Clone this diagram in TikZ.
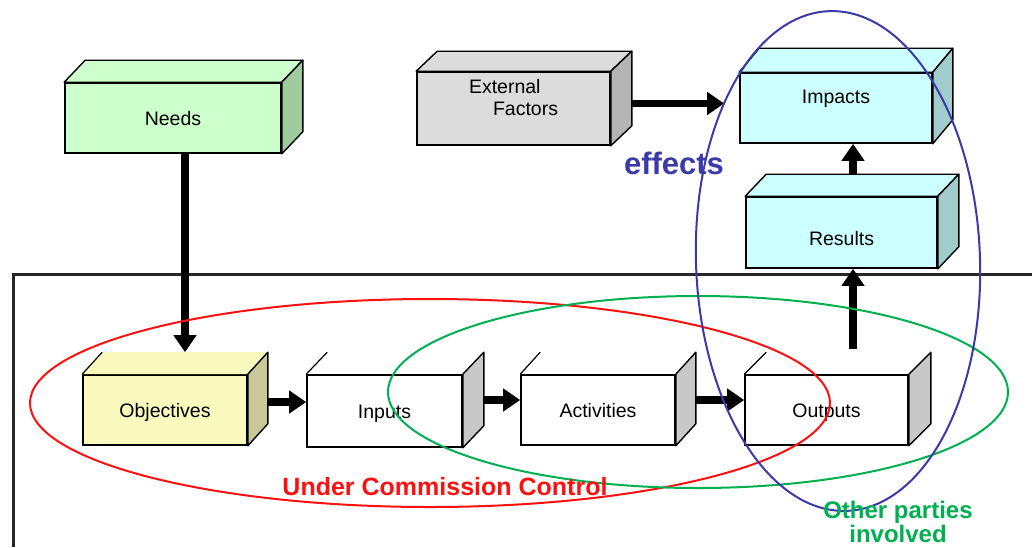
\documentclass[tikz,border=0pt]{standalone}
\usepackage{fontspec}
\setmainfont{Liberation Sans}
\usetikzlibrary{calc,arrows.meta}
\definecolor{needsF}{HTML}{CCFFCC}\definecolor{needsS}{HTML}{9FCC9F}
\definecolor{extF}{HTML}{DCDCDC}\definecolor{extS}{HTML}{B4B4B4}
\definecolor{cyF}{HTML}{CCFFFF}\definecolor{cyS}{HTML}{A0CCCC}
\definecolor{yeF}{HTML}{FAFABE}\definecolor{yeS}{HTML}{CCCC99}
\definecolor{whS}{HTML}{C8C8C8}
\definecolor{ellred}{HTML}{FF1010}\definecolor{ellgreen}{HTML}{00B050}
\definecolor{ellblue}{HTML}{3A3AA8}
\newcommand\cubefaces[5]{%
  \filldraw[fill=#4, line width=1.4pt, line join=round] (#1.north west) -- ++(#2,#3) -- ($(#1.north east)+(#2,#3)$) -- (#1.north east) -- cycle;
  \filldraw[fill=#5, line width=1.4pt, line join=round] (#1.north east) -- ++(#2,#3) -- ($(#1.south east)+(#2,#3)$) -- (#1.south east) -- cycle;}
\newcommand\openfaces[4]{%
  \fill[#4] (#1.north west) -- ++(#2,#3) -- ($(#1.north east)+(#2,#3)$) -- (#1.north east) -- cycle;
  \draw[line width=1.2pt] (#1.north west) -- ++(#2,#3);
  \filldraw[fill=#4!80!black, line width=1.4pt, line join=round] (#1.north east) -- ++(#2,#3) -- ($(#1.south east)+(#2,#3)$) -- (#1.south east) -- cycle;}
\newcommand\whitefaces[3]{%
  \draw[line width=1.2pt] (#1.north west) -- ++(#2,#3);
  \filldraw[fill=whS, line width=1.4pt, line join=round] (#1.north east) -- ++(#2,#3) -- ($(#1.south east)+(#2,#3)$) -- (#1.south east) -- cycle;}
\tikzset{
  cubebox/.style={draw, line width=1.6pt, inner sep=0pt, font=\fontsize{19.5}{22}\selectfont, text height=14pt, text depth=0pt},
  arr/.style={line width=7.5pt, -{Triangle[length=17pt,width=22pt]}},
  frame/.style={line width=3pt, draw=black!85},
  ell/.style={line width=2pt},
}
\begin{document}
\begin{tikzpicture}[x=1pt,y=-1pt]
\useasboundingbox (0,0) rectangle (1032,547);
% frame
\draw[frame] (1032,274) -- (13,274) -- (13,547);
% boxes
\node[cubebox, fill=needsF, minimum width=216pt, minimum height=70pt] (needs) at (173,118) {Needs};
\cubefaces{needs}{21}{-22}{needsF}{needsS}
\node[cubebox, fill=extF, minimum width=193pt, minimum height=73pt, align=left] (ext) at (513.5,108.5) {External\\\hspace*{24pt}Factors};
\cubefaces{ext}{21}{-20}{extF}{extS}
\node[cubebox, fill=cyF, minimum width=192pt, minimum height=70pt, text height=4pt, text depth=14pt] (imp) at (836,108) {Impacts};
\cubefaces{imp}{20}{-24}{cyF}{cyS}
\node[cubebox, fill=cyF, minimum width=191pt, minimum height=71pt, text height=25pt, text depth=0pt] (res) at (841.5,232.5) {Results};
\cubefaces{res}{21}{-22}{cyF}{cyS}
\node[cubebox, fill=yeF, minimum width=164pt, minimum height=70pt] (obj) at (165,410) {Objectives};
\openfaces{obj}{20}{-22}{yeF}
\node[cubebox, fill=white, minimum width=155pt, minimum height=72pt] (inp) at (384.5,411) {Inputs};
\whitefaces{inp}{21}{-22}
\node[cubebox, fill=white, minimum width=154pt, minimum height=70pt] (act) at (598,410) {Activities};
\whitefaces{act}{20}{-22}
\node[cubebox, fill=white, minimum width=163pt, minimum height=70pt] (out) at (826.5,410) {Outputs};
\whitefaces{out}{22}{-22}
% arrows
\draw[arr] ($(needs.south)+(12,0)$) -- ($(obj.north)+(20,-22)$);
\draw[arr] ($(ext.east)+(21,-5)$) -- ($(imp.west)+(-15,-4.5)$);
\draw[arr] ($(res.north)+(11.5,-22)$) -- ($(imp.south)+(17,0)$);
\draw[arr] ($(out.north)+(26.5,-25)$) -- ($(res.south)+(11.5,0)$);
\draw[arr] ($(obj.east)+(20,-8)$) -- ($(inp.west)+(0,-9)$);
\draw[arr] ($(inp.east)+(21,-11)$) -- ($(act.west)+(0,-10)$);
\draw[arr] ($(act.east)+(20,-10)$) -- ($(out.west)+(0,-10)$);
% ellipses
\draw[ell, ellred] (430,403) ellipse [x radius=400, y radius=104];
\draw[ell, ellgreen] (698,392) ellipse [x radius=310, y radius=96];
\draw[ell, ellblue, rotate around={2:(838,261)}] (838,261) ellipse [x radius=142, y radius=250];
% labels
\node[font=\bfseries\fontsize{31}{31}\selectfont, text=ellblue] (effects) at (674,163) {effects};
\node[font=\bfseries\fontsize{25}{25}\selectfont, text=ellred] (ucc) at (445,487) {Under Commission Control};
\node[font=\bfseries\fontsize{24}{24}\selectfont, text=ellgreen, align=center, inner sep=0pt] (other) at (898,522) {Other parties\\involved};
\end{tikzpicture}
\end{document}
